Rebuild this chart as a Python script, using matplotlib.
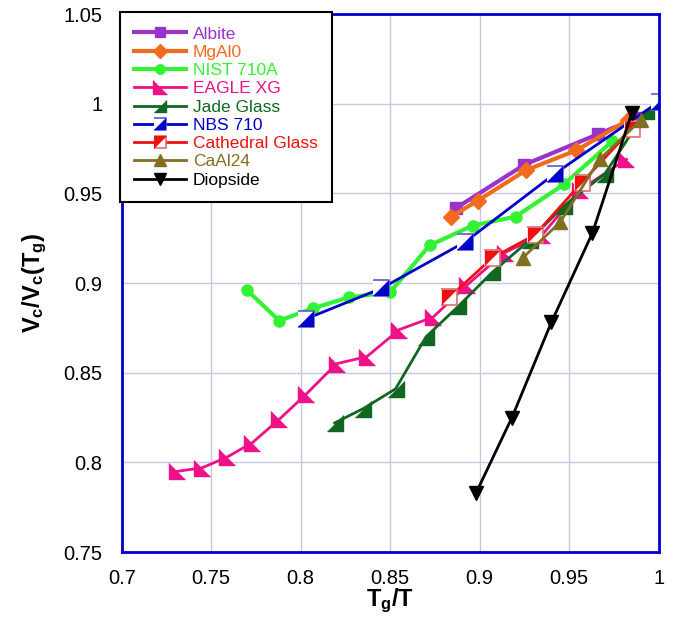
import matplotlib
matplotlib.use('Agg')
from matplotlib import pyplot as plt
from matplotlib.legend_handler import HandlerTuple

plt.rcParams['font.family'] = ['Liberation Sans', 'DejaVu Sans']
plt.rcParams['mathtext.fontset'] = 'custom'
plt.rcParams['mathtext.rm'] = 'Liberation Sans'
plt.rcParams['mathtext.bf'] = 'Liberation Sans:bold'

# data (Tg/T, Vc/Vc(Tg))
albite_x = [0.887, 0.925, 0.966, 0.988]
albite_y = [0.942, 0.966, 0.983, 0.992]

mgal0_x = [0.884, 0.899, 0.926, 0.954, 0.983]
mgal0_y = [0.937, 0.946, 0.963, 0.974, 0.991]

nist_x = [0.770, 0.788, 0.807, 0.827, 0.850, 0.872, 0.896, 0.920, 0.947, 0.974]
nist_y = [0.896, 0.879, 0.886, 0.892, 0.895, 0.921, 0.932, 0.937, 0.955, 0.979]

eagle_x = [0.731, 0.745, 0.759, 0.773, 0.788, 0.803, 0.820, 0.837, 0.855, 0.874,
           0.893, 0.914, 0.935, 0.956, 0.982]
eagle_y = [0.795, 0.797, 0.803, 0.811, 0.824, 0.838, 0.855, 0.859, 0.874, 0.881,
           0.899, 0.917, 0.927, 0.952, 0.969]

jade_x = [0.819, 0.835, 0.853, 0.870, 0.888, 0.907, 0.928, 0.947, 0.970, 0.993]
jade_y = [0.822, 0.830, 0.841, 0.870, 0.887, 0.906, 0.924, 0.943, 0.961, 0.996]

nbs_x = [0.803, 0.845, 0.892, 0.942, 1.000]
nbs_y = [0.880, 0.897, 0.923, 0.961, 1.001]

cath_x = [0.883, 0.907, 0.931, 0.957, 0.985]
cath_y = [0.892, 0.914, 0.927, 0.956, 0.986]

caal_x = [0.924, 0.945, 0.967, 0.990]
caal_y = [0.914, 0.934, 0.969, 0.991]

diop_x = [0.898, 0.918, 0.940, 0.963, 0.985]
diop_y = [0.783, 0.825, 0.878, 0.928, 0.995]

# marker shapes
sq = [(-1, -1), (1, -1), (1, 1), (-1, 1)]
tri_ll = [(-1, 1), (-1, -1), (1, -1)]   # right angle bottom-left
tri_lr = [(1, 1), (1, -1), (-1, -1)]    # right angle bottom-right
tri_ul = [(-1, 1), (1, 1), (-1, -1)]    # right angle top-left

fig = plt.figure(figsize=(6.84, 6.4), dpi=100)
ax = fig.add_axes([0.178, 0.1375, 0.785, 0.8405])

handles = []
labels = []

h, = ax.plot(albite_x, albite_y, '-', color='#9933cc', lw=3, marker='s', ms=9)
handles.append(h); labels.append('Albite')
h, = ax.plot(mgal0_x, mgal0_y, '-', color='#f26b1d', lw=3, marker='D', ms=8)
handles.append(h); labels.append('MgAl0')
h, = ax.plot(nist_x, nist_y, '-', color='#33f233', lw=3, marker='o', ms=8)
handles.append(h); labels.append('NIST 710A')
h, = ax.plot(eagle_x, eagle_y, '-', color='#ee1188', lw=2, marker=tri_ll, ms=12)
handles.append(h); labels.append('EAGLE XG')
h, = ax.plot(jade_x, jade_y, '-', color='#116622', lw=2, marker=tri_lr, ms=11)
handles.append(h); labels.append('Jade Glass')

h1, = ax.plot(nbs_x, nbs_y, '-', color='#0000cc', lw=2, marker=sq, ms=11,
              mfc='white', mec='#5c5cc8', mew=1.2)
h2, = ax.plot(nbs_x, nbs_y, ls='none', marker=tri_lr, ms=11, color='#0000cc',
              mew=0)
handles.append((h1, h2)); labels.append('NBS 710')

h1, = ax.plot(cath_x, cath_y, '-', color='#ee1111', lw=2, marker=sq, ms=11,
              mfc='white', mec='#d87070', mew=1.2)
h2, = ax.plot(cath_x, cath_y, ls='none', marker=tri_ul, ms=11, color='#ee1111',
              mew=0)
handles.append((h1, h2)); labels.append('Cathedral Glass')

h, = ax.plot(caal_x, caal_y, '-', color='#807020', lw=2, marker='^', ms=10)
handles.append(h); labels.append('CaAl24')
h, = ax.plot(diop_x, diop_y, '-', color='black', lw=2, marker='v', ms=10)
handles.append(h); labels.append('Diopside')

ax.set_xlim(0.7, 1.0)
ax.set_ylim(0.75, 1.05)
ax.set_xticks([0.7, 0.75, 0.8, 0.85, 0.9, 0.95, 1.0])
ax.set_xticklabels(['0.7', '0.75', '0.8', '0.85', '0.9', '0.95', '1'])
ax.set_yticks([0.75, 0.8, 0.85, 0.9, 0.95, 1.0, 1.05])
ax.set_yticklabels(['0.75', '0.8', '0.85', '0.9', '0.95', '1', '1.05'])
ax.tick_params(length=0, labelsize=14.5)
ax.tick_params(axis='y', pad=14)
ax.tick_params(axis='x', pad=12)
ax.grid(True, color='#c8c8e0', lw=1)
ax.set_axisbelow(True)
for s in ax.spines.values():
    s.set_color('#0000cc')
    s.set_linewidth(2)

ax.set_xlabel(r'$\mathbf{T_g/T}$', fontsize=17, labelpad=-1)
ax.set_ylabel(r'$\mathbf{V_c/V_c(T_g)}$', fontsize=17, labelpad=10)

leg = ax.legend(handles, labels, loc='upper left', bbox_to_anchor=(-0.003, 1.003),
                numpoints=1, handlelength=3.0, handletextpad=0.4, fontsize=12.5,
                fancybox=False, framealpha=1, edgecolor='black', borderpad=0.8,
                labelspacing=0.18, borderaxespad=0, markerscale=0.85,
                handler_map={tuple: HandlerTuple(ndivide=1)})
leg.get_frame().set_linewidth(1.5)
colors = ['#9933cc', '#f26b1d', '#33f233', '#ee1188', '#116622', '#0000cc',
          '#ee1111', '#807020', 'black']
for t, c in zip(leg.get_texts(), colors):
    t.set_color(c)

plt.savefig('out.png', dpi=100)
